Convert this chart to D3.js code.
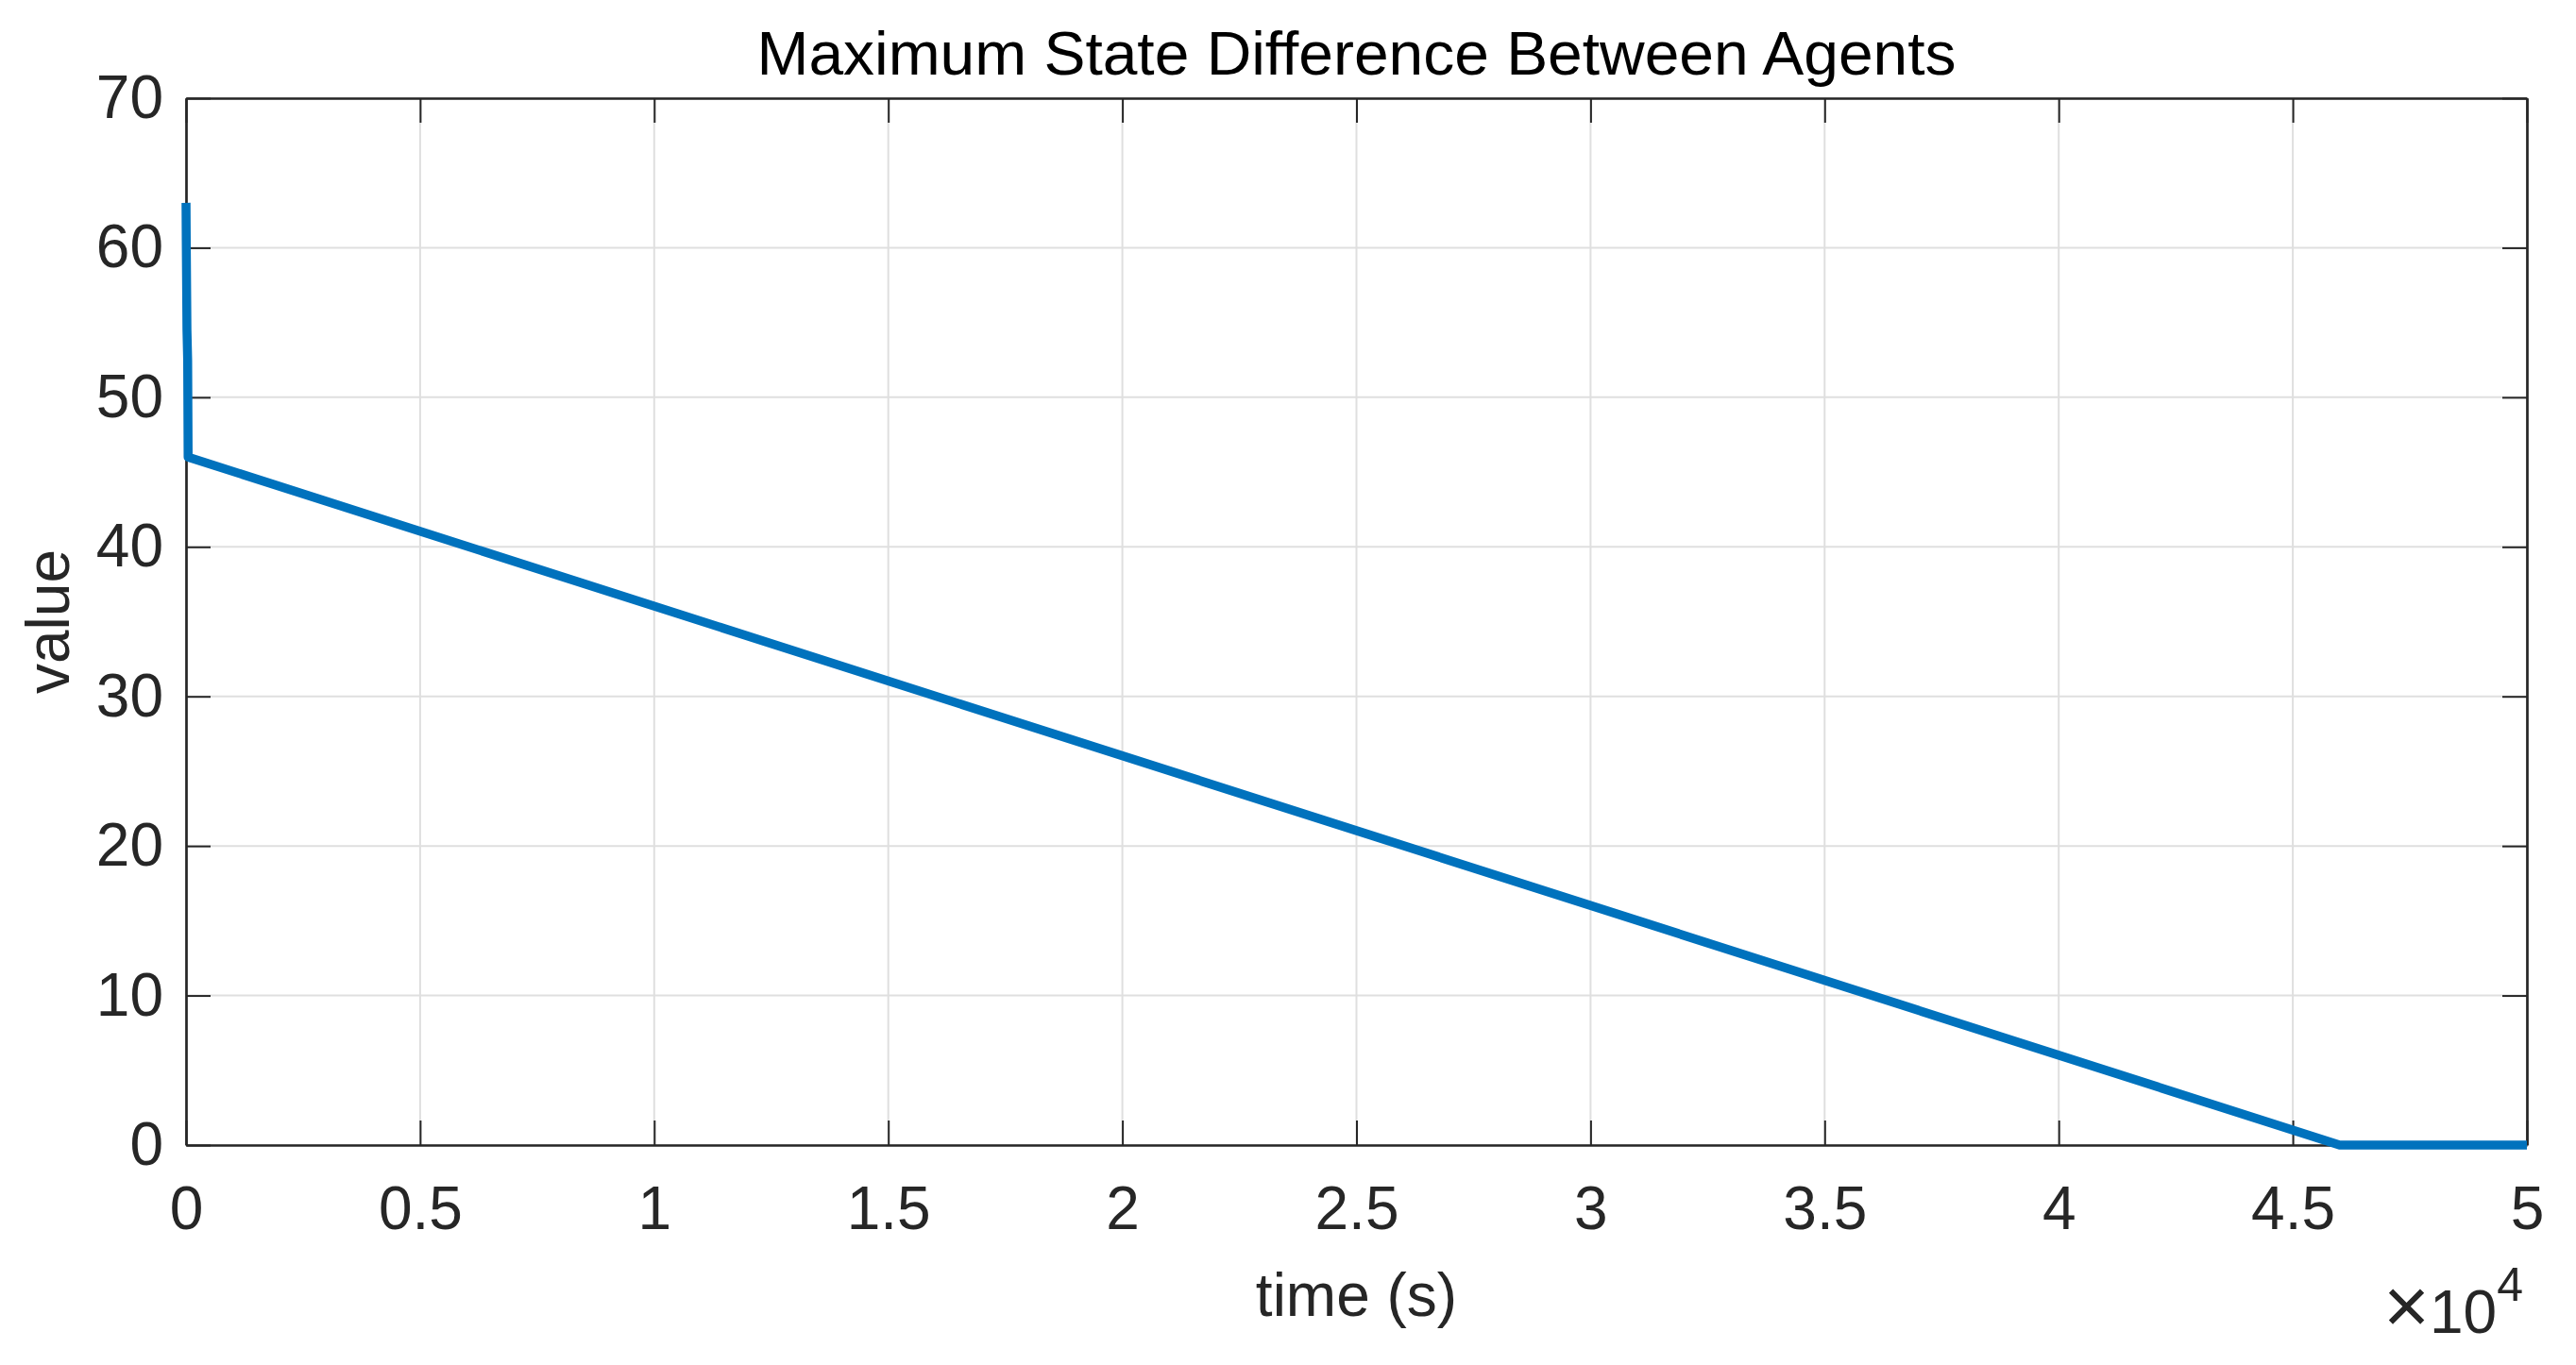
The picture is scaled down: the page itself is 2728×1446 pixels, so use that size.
<!DOCTYPE html>
<html>
<head>
<meta charset="utf-8">
<script src="https://cdn.jsdelivr.net/npm/d3@7"></script>
<style>
  body { margin: 0; background: #fff; }
  svg { display: block; }
</style>
</head>
<body>
<div id="chart"></div>
<script>
// Series: time in seconds, value.
const timeValues = [0, 5, 20, 35, 45, 46000, 50000];
const stateValues = [63, 60.5, 54.5, 52.5, 46, 0, 0];

// Tick values.
const xTicks = [0, 5000, 10000, 15000, 20000, 25000, 30000, 35000, 40000, 45000, 50000];
const yTicks = [0, 10, 20, 30, 40, 50, 60, 70];

const title = "Maximum State Difference Between Agents";
const xLabel = "time (s)";
const yLabel = "value";

/**
 * Layout.
 */
const width = 2728;
const height = 1446;
const marginLeft = 197;
const marginRight = width - 2676;
const marginTop = 104;
const marginBottom = height - 1213;
const innerWidth = width - marginLeft - marginRight;
const innerHeight = height - marginTop - marginBottom;

const axisColor = "#262626";
const gridColor = "#dfdfdf";
const lineColor = "#0072BD";
const fontFamily = "'Liberation Sans', Arial, Helvetica, sans-serif";
const fontSize = 64;
const tickLength = 26;

const svg = d3
  .select("#chart")
  .append("svg")
  .attr("width", width)
  .attr("height", height)
  .attr("font-family", fontFamily);

svg.append("rect").attr("width", width).attr("height", height).attr("fill", "#fff");

const g = svg.append("g").attr("transform", `translate(${marginLeft},${marginTop})`);

// Scales.
const x = d3.scaleLinear().domain([0, 50000]).range([0, innerWidth]);
const y = d3.scaleLinear().domain([0, 70]).range([innerHeight, 0]);

/**
 * Grid.
 */
g.append("g")
  .selectAll("line")
  .data(xTicks)
  .join("line")
  .attr("x1", (d) => x(d))
  .attr("x2", (d) => x(d))
  .attr("y1", 0)
  .attr("y2", innerHeight)
  .attr("stroke", gridColor)
  .attr("stroke-width", 2);

g.append("g")
  .selectAll("line")
  .data(yTicks)
  .join("line")
  .attr("x1", 0)
  .attr("x2", innerWidth)
  .attr("y1", (d) => y(d))
  .attr("y2", (d) => y(d))
  .attr("stroke", gridColor)
  .attr("stroke-width", 2);

/**
 * Axes (ticks pointing inward, mirrored on top and right).
 */
function styleAxis(sel) {
  sel.select(".domain").attr("stroke", axisColor).attr("stroke-width", 2.7);
  sel.selectAll(".tick line").attr("stroke", axisColor).attr("stroke-width", 2);
  sel.selectAll(".tick text")
    .attr("fill", axisColor)
    .attr("font-size", fontSize)
    .attr("font-family", fontFamily);
}

// Mirrored axes carry no labels: drop their empty texts.
function dropLabels(sel) {
  sel.selectAll(".tick text").remove();
}

g.append("g")
  .attr("transform", `translate(0,${innerHeight})`)
  .call(
    d3.axisBottom(x)
      .tickValues(xTicks)
      .tickSizeInner(-tickLength)
      .tickSizeOuter(0)
      .tickPadding(44)
      .tickFormat((d) => d3.format("~g")(d / 10000))
  )
  .call(styleAxis);

g.append("g")
  .call(d3.axisTop(x).tickValues(xTicks).tickSizeInner(-tickLength).tickSizeOuter(0))
  .call(styleAxis)
  .call(dropLabels);

g.append("g")
  .call(
    d3.axisLeft(y)
      .tickValues(yTicks)
      .tickSizeInner(-tickLength)
      .tickSizeOuter(0)
      .tickPadding(24)
  )
  .call(styleAxis);

g.append("g")
  .attr("transform", `translate(${innerWidth},0)`)
  .call(d3.axisRight(y).tickValues(yTicks).tickSizeInner(-tickLength).tickSizeOuter(0))
  .call(styleAxis)
  .call(dropLabels);

/**
 * Data line.
 */
const points = timeValues.map((t, i) => [t, stateValues[i]]);
const line = d3
  .line()
  .x((d) => x(d[0]))
  .y((d) => y(d[1]));

g.append("path")
  .datum(points)
  .attr("d", line)
  .attr("fill", "none")
  .attr("stroke", lineColor)
  .attr("stroke-width", 9.5)
  .attr("stroke-linejoin", "round");

/**
 * Labels.
 */
svg.append("text")
  .attr("x", marginLeft + innerWidth / 2)
  .attr("y", 79)
  .attr("text-anchor", "middle")
  .attr("font-size", fontSize)
  .attr("fill", "#000")
  .attr("textLength", 1270)
  .attr("lengthAdjust", "spacingAndGlyphs")
  .text(title);

svg.append("text")
  .attr("x", marginLeft + innerWidth / 2)
  .attr("y", 1394)
  .attr("text-anchor", "middle")
  .attr("font-size", fontSize)
  .attr("fill", axisColor)
  .text(xLabel);

svg.append("text")
  .attr("transform", `translate(73,${marginTop + innerHeight / 2}) rotate(-90)`)
  .attr("text-anchor", "middle")
  .attr("font-size", fontSize)
  .attr("fill", axisColor)
  .text(yLabel);

// Exponent label for the x axis.
const expLabel = svg.append("text")
  .attr("x", width - marginRight - 4)
  .attr("y", 1412)
  .attr("text-anchor", "end")
  .attr("font-size", fontSize)
  .attr("fill", axisColor);
expLabel.append("tspan").attr("font-size", 84).text("\u00d7");
expLabel.append("tspan").text("10");
expLabel.append("tspan")
  .attr("font-size", 50)
  .attr("dy", -34)
  .text("4");
</script>
</body>
</html>
